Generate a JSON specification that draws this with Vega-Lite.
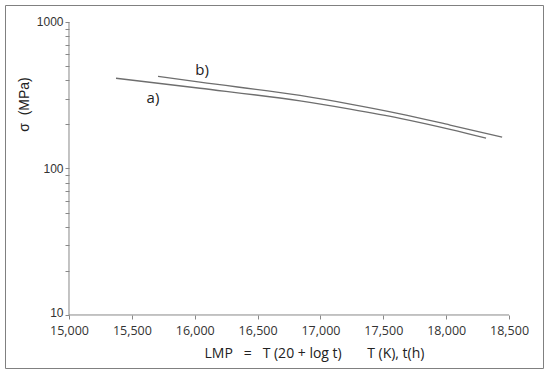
{
  "$schema": "https://vega.github.io/schema/vega-lite/v6.json",
  "width": 538,
  "height": 363,
  "padding": {"left": 5, "top": 5, "right": 7, "bottom": 6},
  "autosize": {"type": "none"},
  "background": "white",
  "config": {"view": {"stroke": "#808080", "strokeWidth": 1}},
  "datasets": {
    "curves": [
      {"series": "a", "lmp": 15374, "sigma": 413},
      {"series": "a", "lmp": 16042, "sigma": 353},
      {"series": "a", "lmp": 16838, "sigma": 289},
      {"series": "a", "lmp": 17236, "sigma": 254},
      {"series": "a", "lmp": 17633, "sigma": 220},
      {"series": "a", "lmp": 18031, "sigma": 185},
      {"series": "a", "lmp": 18317, "sigma": 161},
      {"series": "b", "lmp": 15708, "sigma": 425},
      {"series": "b", "lmp": 16042, "sigma": 388},
      {"series": "b", "lmp": 16838, "sigma": 315},
      {"series": "b", "lmp": 17236, "sigma": 275},
      {"series": "b", "lmp": 17633, "sigma": 236},
      {"series": "b", "lmp": 18031, "sigma": 198},
      {"series": "b", "lmp": 18445, "sigma": 164}
    ],
    "labels": [
      {"text": "a)", "lmp": 15668, "sigma": 279},
      {"text": "b)", "lmp": 16058, "sigma": 433}
    ],
    "xline": [{"lmp": 15000, "lmp2": 18500, "sigma": 10}],
    "yline": [{"lmp": 15000, "sigma": 10, "sigma2": 1000}]
  },
  "encoding": {
    "x": {
      "field": "lmp", "type": "quantitative",
      "scale": {"domain": [14491, 18770], "nice": false, "zero": false},
      "axis": {
        "values": [15000, 15500, 16000, 16500, 17000, 17500, 18000, 18500],
        "labelExpr": "format(datum.value, ',d')",
        "offset": -53,
        "domain": false,
        "grid": false,
        "ticks": true,
        "tickSize": 4,
        "tickColor": "#888888",
        "labelFont": "Open Sans",
        "labelFontSize": 12.5,
        "labelColor": "#333333",
        "labelPadding": 5,
        "labelFlush": false,
        "labelOverlap": false,
        "title": "LMP\u00a0\u00a0\u00a0=\u00a0\u00a0\u00a0T (20 + log t)\u00a0\u00a0\u00a0\u00a0\u00a0\u00a0\u00a0T (K), t(h)",
        "titleFont": "Open Sans",
        "titleFontSize": 14,
        "titleFontWeight": "normal",
        "titleColor": "#222222",
        "titleAlign": "left",
        "titleBaseline": "alphabetic",
        "titleX": 199,
        "titleY": 42
      }
    },
    "y": {
      "field": "sigma", "type": "quantitative",
      "scale": {"type": "log", "domain": [4.346, 1306], "nice": false},
      "axis": {
        "values": [10, 20, 30, 40, 50, 60, 70, 80, 90, 100, 200, 300, 400, 500, 600, 700, 800, 900, 1000],
        "labelExpr": "(datum.value == 10 || datum.value == 100 || datum.value == 1000) ? format(datum.value, 'd') : ''",
        "labelOffset": {"condition": {"test": "datum.value == 10", "value": -2}, "value": 0},
        "offset": -64,
        "domain": false,
        "grid": false,
        "tickSize": 4,
        "tickColor": "#888888",
        "labelFont": "Liberation Sans",
        "labelFontSize": 12,
        "labelColor": "#333333",
        "labelPadding": 2,
        "labelFlush": false,
        "labelOverlap": false,
        "title": "σ\u00a0\u00a0(MPa)",
        "titleFont": "Liberation Sans",
        "titleFontSize": 14,
        "titleFontWeight": "normal",
        "titleColor": "#222222",
        "titleAngle": -90,
        "titleAlign": "center",
        "titleBaseline": "middle",
        "titleX": -45,
        "titleY": 99
      }
    }
  },
  "layer": [
    {
      "data": {"name": "curves"},
      "mark": {"type": "line", "color": "#6e6e6e", "strokeWidth": 1.3, "interpolate": "monotone"},
      "encoding": {"detail": {"field": "series"}}
    },
    {
      "data": {"name": "labels"},
      "mark": {"type": "text", "font": "Open Sans", "fontSize": 15, "color": "#222222", "align": "center", "baseline": "alphabetic"},
      "encoding": {"text": {"field": "text"}}
    },
    {
      "data": {"name": "xline"},
      "mark": {"type": "rule", "color": "#888888", "strokeWidth": 1},
      "encoding": {"x2": {"field": "lmp2"}}
    },
    {
      "data": {"name": "yline"},
      "mark": {"type": "rule", "color": "#888888", "strokeWidth": 1},
      "encoding": {"y2": {"field": "sigma2"}}
    }
  ]
}
